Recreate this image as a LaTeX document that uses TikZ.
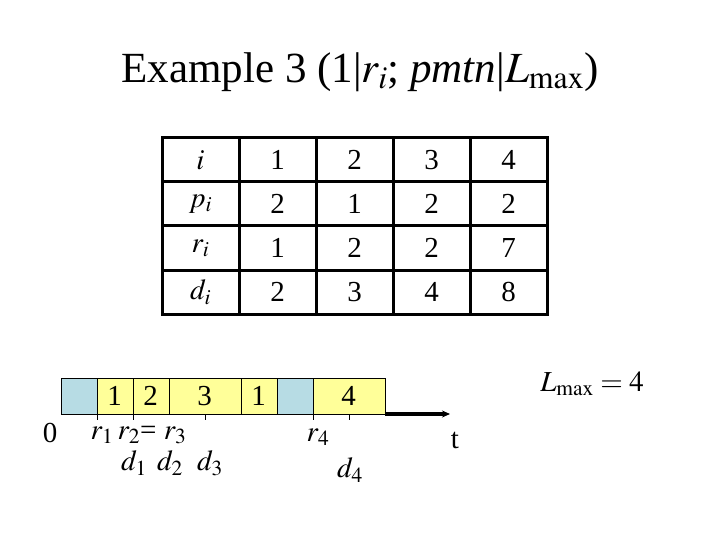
\documentclass[tikz,border=0pt]{standalone}
\usepackage{mathptmx}
\usepackage{fontspec}
\setmainfont{Liberation Serif}
\definecolor{IdleBlue}{HTML}{B7DCE4}
\definecolor{JobYellow}{HTML}{FFFF99}
\usetikzlibrary{positioning, arrows.meta}

\begin{document}
\begin{tikzpicture}[x=1pt, y=-1pt,
  cell/.style={draw, line width=3pt, minimum width=77pt,
    minimum height=44pt, inner sep=0pt, outer sep=0pt,
    font=\fontsize{29}{33}\selectfont},
  slot/.style={draw, thin, minimum height=36pt, inner sep=0pt,
    outer sep=0pt, font=\fontsize{29}{33}\selectfont},
  idle/.style={slot, fill=IdleBlue},
  job/.style={slot, fill=JobYellow},
  lbl/.style={font=\fontsize{29}{33}\selectfont, inner sep=0pt},
  axis/.style={-{Stealth[length=8pt, width=7pt]}, line width=3.5pt},
]
  \useasboundingbox (0,0) rectangle (720,540);

  \node[font=\fontsize{43}{48}\selectfont] (title) at (360,72)
    {Example 3 (1|$r_i$; \textit{pmtn}|$L_{\max}$)};

  % data table
  \foreach \lab/\a/\b/\c/\d [count=\r from 0] in
    {{$i$}/1/2/3/4, {$p_i$}/2/1/2/2, {$r_i$}/1/2/2/7, {$d_i$}/2/3/4/8}
  {
    \node[cell] (head\r) at (200.5, {160+44*\r}) {\lab};
    \node[cell, right=0pt of head\r] (val\r a) {\a};
    \node[cell, right=0pt of val\r a] (val\r b) {\b};
    \node[cell, right=0pt of val\r b] (val\r c) {\c};
    \node[cell, right=0pt of val\r c] (val\r d) {\d};
  }

  % schedule
  \node[idle, minimum width=36pt] (idle1) at (78.7,396) {};
  \node[job, minimum width=36pt, right=0pt of idle1] (run1) {1};
  \node[job, minimum width=36pt, right=0pt of run1] (run2) {2};
  \node[job, minimum width=72pt, right=0pt of run2] (run3) {3};
  \node[job, minimum width=36pt, right=0pt of run3] (run1b) {1};
  \node[idle, minimum width=36pt, right=0pt of run1b] (idle2) {};
  \node[job, minimum width=72pt, right=0pt of idle2] (run4) {4};

  \coordinate (tend) at (450,414);
  \draw[axis] (run4.south east) -- (tend);
  \foreach \k in {1,2,4,7,8}
  {
    \coordinate (tk\k) at ({60.7+36*\k},414);
    \draw (tk\k) -- ++(0,6);
  }

  % time labels
  \node[lbl] (zero) at (50,433) {0};
  \node[lbl] (rone) at (102,435) {$r_1$};
  \node[lbl] (rtwo) at (152,435) {$r_2$= $r_3$};
  \node[lbl] (rfour) at (318,437) {$r_4$};
  \node[lbl] (done) at (134,463) {$d_1$};
  \node[lbl] (dtwo) at (170,463) {$d_2$};
  \node[lbl] (dthree) at (210,463) {$d_3$};
  \node[lbl] (dfour) at (350,470) {$d_4$};
  \node[lbl] (time) at (455,440) {t};
  \node[lbl] (lmax) at (592,384) {$L_{\max} = 4$};
\end{tikzpicture}
\end{document}
